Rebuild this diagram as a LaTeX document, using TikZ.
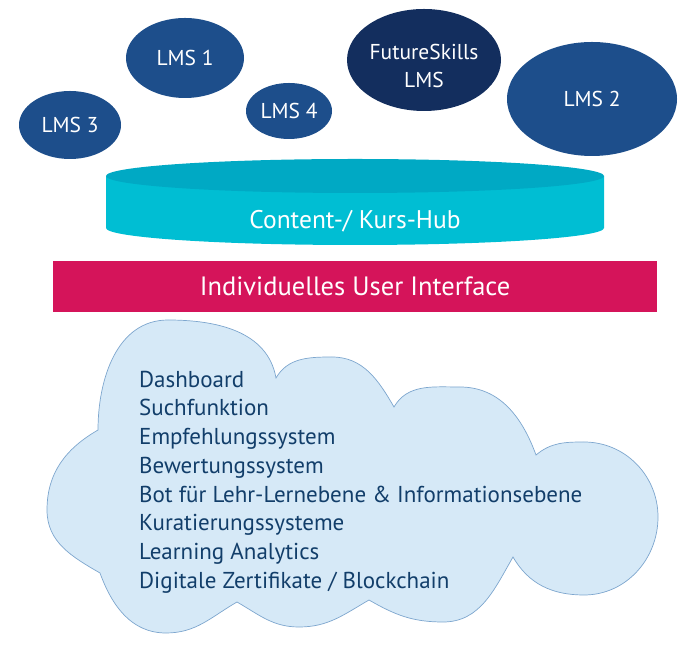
\documentclass[tikz,border=0pt]{standalone}
\usepackage{fontspec}
\setmainfont{PT Sans}
\usetikzlibrary{shapes.geometric}

\definecolor{lmsblue}{HTML}{1D4E8B}
\definecolor{fsblue}{HTML}{132E5E}
\definecolor{hubtop}{HTML}{00A9C4}
\definecolor{hubbody}{HTML}{00BED3}
\definecolor{uired}{HTML}{D5145A}
\definecolor{cloudfill}{HTML}{D6E9F7}
\definecolor{cloudline}{HTML}{7DA6CE}
\definecolor{listblue}{HTML}{123E6A}

\tikzset{
  lms/.style={ellipse, fill=lmsblue, text=white, inner sep=0pt, align=center,
    font=\fontsize{21.5}{28}\selectfont},
  lmstext/.style={text=white, inner sep=0pt, align=center,
    font=\fontsize{21.5}{28}\selectfont},
  hubtext/.style={text=white, inner sep=0pt, font=\fontsize{25.5}{30}\selectfont},
  uibar/.style={rectangle, fill=uired, text=white, inner sep=0pt,
    minimum width=604pt, minimum height=51pt, font=\fontsize{26.5}{30}\selectfont},
  featurelist/.style={text=listblue, align=left, inner sep=0pt,
    font=\fontsize{23}{28.7}\selectfont}
}

\begin{document}
\begin{tikzpicture}[x=1pt,y=1pt]
                         \useasboundingbox (0,0) rectangle (690,650);

                         % LMS
                         \node[lms, minimum width=102pt, minimum height=68pt] (lms3) at (70,525) {LMS 3};
                         \node[lms, minimum width=118pt, minimum height=80pt] (lms1) at (185,592) {LMS 1};
                         \node[lms, minimum width=86pt, minimum height=56pt] (lms4) at (289,539) {LMS 4};
                         \node[lms, fill=fsblue, minimum width=154pt, minimum height=102pt] (fslms) at (424,590) {};
                         \node[lmstext] (fstext) at ([yshift=-6pt]fslms.center) {FutureSkills\\LMS};
                         \node[lms, minimum width=170pt, minimum height=114pt] (lms2) at (592,551) {LMS 2};

                         % Hub
                         \fill[hubbody] (106pt,474pt) -- (106pt,422pt) arc[start angle=180, end angle=360, x radius=249pt, y radius=17pt] -- (604pt,474pt) -- cycle;
                         \fill[hubtop] (355pt,474pt) ellipse[x radius=249pt, y radius=17pt];
                         \node[hubtext] (hub) at (355,429) {Content-/ Kurs-Hub};

                         % User Interface
                         \node[uibar] (ui) at (355,363.5) {Individuelles User Interface};

                         % Cloud
                         \filldraw[fill=cloudfill, draw=cloudline, line width=0.7pt]
                           (98,220) to[out=90,in=180] (168,330) to[out=0,in=100] (276,272)
                           to[out=60,in=180] (332,293) to[out=0,in=120] (394,243)
                           to[out=60,in=180] (460,263) to[out=0,in=110] (536,195)
                           to[out=40,in=180] (584,208) to[out=0,in=90] (658,133)
                           to[out=-90,in=0] (584,55) to[out=180,in=-60] (513,93)
                           to[out=-120,in=0] (443,28) to[out=180,in=-30] (369,50)
                           to[out=-150,in=0] (299,23) to[out=180,in=-30] (237,48)
                           to[out=-150,in=0] (166,17) to[out=180,in=-70] (100,77)
                           to[out=150,in=-90] (47,140) to[out=90,in=-150] cycle;
                         \node[featurelist, anchor=west] (features) at (139,168) {Dashboard\\Suchfunktion\\Empfehlungssystem\\Bewertungssystem\\Bot für Lehr-Lernebene \& Informationsebene\\Kuratierungssysteme\\Learning Analytics\\Digitale Zertifikate / Blockchain};
                    \end{tikzpicture}
\end{document}
